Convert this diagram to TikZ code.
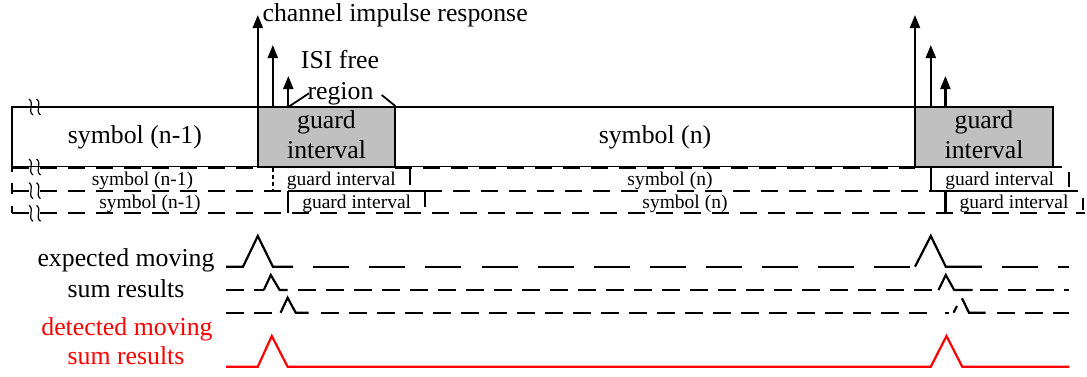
\documentclass[tikz,border=0pt]{standalone}
\usepackage{fontspec}
\setmainfont{Liberation Serif}
\usetikzlibrary{arrows.meta}
\definecolor{gbox}{RGB}{192,192,192}
\begin{document}
\begin{tikzpicture}[x=1pt,y=-1pt,line width=2.2pt,line cap=butt,
  big/.style={font=\fontsize{25.8}{30}\selectfont,inner sep=0pt,anchor=base},
  small/.style={font=\fontsize{19.5}{23}\selectfont,inner sep=0pt,anchor=base},
  rowdash/.style={dash pattern=on 17pt off 11pt},
  sumdash/.style={dash pattern=on 17.5pt off 10.5pt},
  longdash/.style={dash pattern=on 36pt off 20.1pt},
  pulse/.style={-{Triangle[length=13pt,width=10pt]}},
  thinmark/.style={line width=1.2pt},
  brace/.style={line width=1.8pt}]
\useasboundingbox (0,0) rectangle (1087,376);

% ---- first row: full symbols with shaded guard intervals ----
\draw[fill=gbox] (257.8,107) rectangle (395.3,167);
\draw[fill=gbox] (915,107) rectangle (1053,167);
\draw (1053,167) -- (1061.6,167);
\draw (12,171) -- (12,107) -- (1053,107);
\draw[line width=0.8pt] (12,166.6) -- (257.8,166.6) (395.3,166.6) -- (915,166.6);

% ---- second row (delayed copy) ----
\draw[rowdash] (12,168) -- (257.8,168);
\draw[rowdash] (395.3,168) -- (915,168);
\draw[dash pattern=on 8pt off 11pt] (12,190.7) -- (12,167);
\draw[dash pattern=on 4pt off 3pt] (272.7,168) -- (272.7,190.7);
\draw (410,168) -- (410,185);
\draw (930.8,167) -- (930.8,190.7);
\draw (1068.6,171.7) -- (1068.6,186.7);
\draw[rowdash] (12,190.7) -- (288.3,190.7);
\draw (288.3,190.7) -- (425,190.7);
\draw[rowdash] (425,190.7) -- (945.4,190.7);
\draw (945.4,190.7) -- (1078,190.7);

% ---- third row (further delayed copy) ----
\draw[dash pattern=on 7.3pt off 12pt] (12,213.3) -- (12,190.7);
\draw (288.3,190.7) -- (288.3,213.3);
\draw (425,192) -- (425,207);
\draw (945.4,190.7) -- (945.4,213.3);
\draw (1082.6,198) -- (1082.6,210);
\draw[rowdash] (12,213.3) -- (1085,213.3);

% ---- break marks at the left end of each line ----
\foreach \yy in {107,167,190.7,213.3}
  \foreach \xx in {31,38.5}
    \draw[thinmark] (\xx-2,\yy-8) .. controls (\xx+4,\yy-3.5) and (\xx-4,\yy+3.5) .. (\xx+2,\yy+8);

% ---- channel impulse response ----
\coordinate (p1) at (257.8,107);
\coordinate (p2) at (272.8,107);
\coordinate (p3) at (288.3,107);
\coordinate (q1) at (915,107);
\coordinate (q2) at (930.8,107);
\coordinate (q3) at (945.4,107);
\draw[pulse] (p1) -- (257.8,15);
\draw[pulse] (p2) -- (272.8,45);
\draw[pulse] (p3) -- (288.3,76);
\draw[pulse] (q1) -- (915,15);
\draw[pulse] (q2) -- (930.8,45);
\draw[pulse] (q3) -- (945.4,76);

\node[big,anchor=base west] (cir) at (261.5,21) {channel impulse response};
\node[big] (isi) at (340,68.3) {ISI free};
\node[big] (reg) at (340.5,99) {region};
\draw[brace] (p3) -- (309,93.3);
\draw[brace] (381.7,95) -- (395.3,106);

% ---- symbol labels ----
\node[big] (sa) at (134.9,143.5) {symbol (n-1)};
\node[big] (ga1) at (326.5,128.5) {guard};
\node[big] (ga2) at (326.5,158.5) {interval};
\node[big] (sb) at (655,143.5) {symbol (n)};
\node[big] (gb1) at (984,128.5) {guard};
\node[big] (gb2) at (984,158.5) {interval};

\node[small] (r2a) at (142.4,185.5) {symbol (n-1)};
\node[small] (r2b) at (341.3,185.5) {guard interval};
\node[small] (r2c) at (670,185.5) {symbol (n)};
\node[small] (r2d) at (999.7,185.5) {guard interval};
\node[small] (r3a) at (150,208.5) {symbol (n-1)};
\node[small] (r3b) at (356.7,208.5) {guard interval};
\node[small] (r3c) at (685,208.5) {symbol (n)};
\node[small] (r3d) at (1014,208.5) {guard interval};

% ---- expected moving sum results ----
\node[big] (ex1) at (126,266.7) {expected moving};
\node[big] (ex2) at (126,297.3) {sum results};
\draw (226,266.7) -- (243,266.7) -- (257.8,236) -- (272.9,266.7) -- (293,266.7);
\draw[longdash] (313.2,266.7) -- (910.2,266.7);
\draw (915,266.7) -- (930.8,236) -- (945.8,266.7) -- (982,266.7);
\draw[longdash] (1001.6,266.7) -- (1069.3,266.7);

\draw[sumdash] (226,290) -- (263.8,290);
\draw (263.8,290) -- (270.8,275) -- (279.6,290) -- (287.6,290);
\draw[sumdash] (298,290) -- (932.5,290);
\draw (938.5,290) -- (945.8,275) -- (954.2,290) -- (972.7,290);
\draw[sumdash] (980,290) -- (1069.3,290);

\draw[sumdash] (226,312.7) -- (271.8,312.7);
\draw (280.6,312.7) -- (287.6,297.7) -- (295.7,312.7) -- (308.7,312.7);
\draw[sumdash] (321,312.7) -- (927,312.7);
\draw (945,312.7) -- (949,312.7);
\draw (953.5,312.7) -- (957,306);
\draw (962,298.3) -- (969,312.7) -- (985.6,312.7);
\draw[sumdash] (997,312.7) -- (1069.3,312.7);

% ---- detected moving sum results ----
\node[big,text=red] (de1) at (127,335) {detected moving};
\node[big,text=red] (de2) at (126,364) {sum results};
\draw[red] (226,366.7) -- (257.8,366.7) -- (271.8,336) -- (287.6,366.7)
  -- (930.8,366.7) -- (946.5,336) -- (962.2,366.7) -- (1069.3,366.7);
\end{tikzpicture}
\end{document}
